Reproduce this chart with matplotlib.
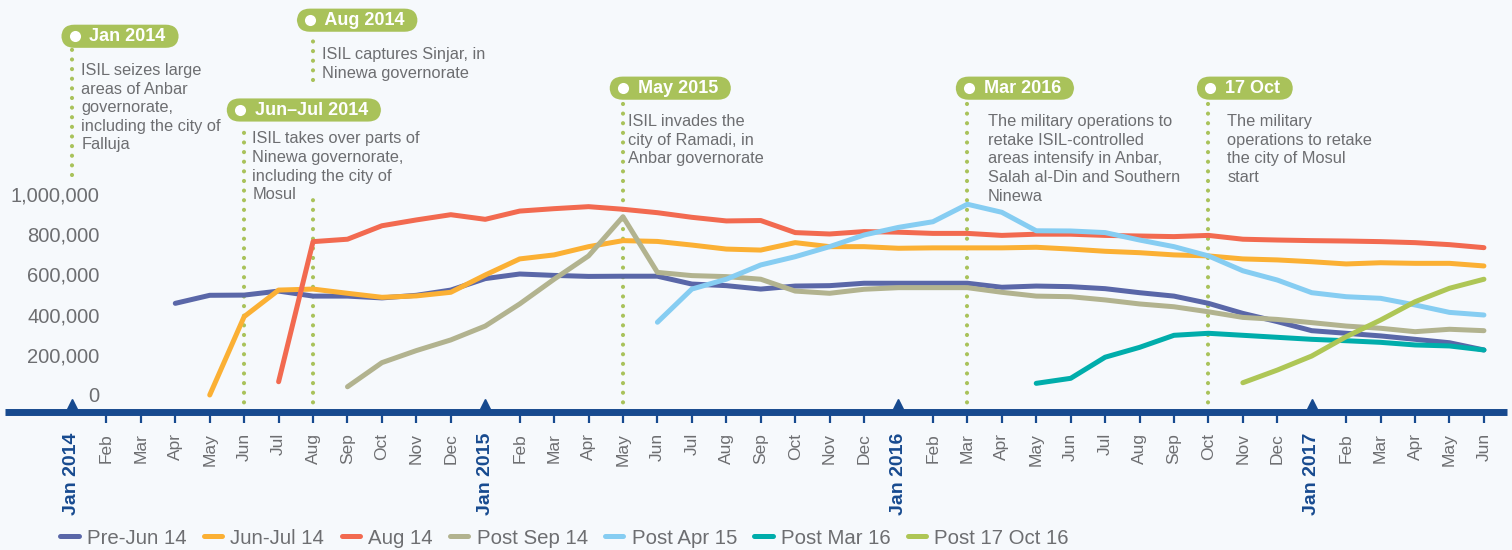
import matplotlib.pyplot as plt
from matplotlib.transforms import blended_transform_factory

# month axis, Jan 2014 .. Jun 2017
month_labels = ['Jan 2014', 'Feb', 'Mar', 'Apr', 'May', 'Jun', 'Jul', 'Aug', 'Sep', 'Oct', 'Nov', 'Dec',
                'Jan 2015', 'Feb', 'Mar', 'Apr', 'May', 'Jun', 'Jul', 'Aug', 'Sep', 'Oct', 'Nov', 'Dec',
                'Jan 2016', 'Feb', 'Mar', 'Apr', 'May', 'Jun', 'Jul', 'Aug', 'Sep', 'Oct', 'Nov', 'Dec',
                'Jan 2017', 'Feb', 'Mar', 'Apr', 'May', 'Jun']

# series (thousands), each with its first month index
pre_jun_14_start = 3
pre_jun_14 = [456, 496, 497, 517, 492, 492, 483, 496, 522,
              579, 602, 595, 590, 591, 591, 552, 544, 527, 542, 544, 556,
              556, 556, 556, 536, 542, 539, 529, 509, 492, 456, 406, 365,
              320, 307, 294, 277, 260, 224]
jun_jul_14_start = 4
jun_jul_14 = [0, 390, 522, 527, 506, 486, 493, 511,
              597, 677, 697, 738, 768, 764, 746, 726, 721, 758, 738, 738,
              730, 732, 732, 732, 735, 726, 715, 708, 697, 692, 677, 672,
              663, 652, 658, 655, 655, 642]
aug_14_start = 6
aug_14 = [66, 763, 775, 842, 871, 897,
          874, 915, 927, 937, 924, 907, 884, 866, 868, 808, 801, 813,
          810, 804, 804, 794, 800, 800, 794, 791, 788, 794, 775, 771,
          768, 766, 763, 758, 748, 733]
post_sep_14_start = 8
post_sep_14 = [41, 161, 221, 274,
               343, 453, 576, 692, 887, 610, 594, 589, 576, 517, 506, 526,
               534, 534, 534, 511, 492, 489, 473, 453, 439, 414, 386, 376,
               360, 343, 332, 315, 327, 320]
post_apr_15_start = 17
post_apr_15 = [362, 527, 576, 647, 688, 738, 796,
               834, 862, 949, 909, 817, 816, 808, 771, 738, 692, 618, 572,
               509, 489, 481, 448, 411, 398]
post_mar_16_start = 28
post_mar_16 = [58, 83, 188, 237, 297, 307, 297, 287,
               277, 270, 262, 249, 244, 224]
post_17_oct_16_start = 34
post_17_oct_16 = [61, 124, 194, 290, 373, 464, 531, 576]

series_names = ['Pre-Jun 14', 'Jun-Jul 14', 'Aug 14', 'Post Sep 14', 'Post Apr 15', 'Post Mar 16', 'Post 17 Oct 16']
series_values = [pre_jun_14, jun_jul_14, aug_14, post_sep_14, post_apr_15, post_mar_16, post_17_oct_16]
series_starts = [pre_jun_14_start, jun_jul_14_start, aug_14_start, post_sep_14_start,
                 post_apr_15_start, post_mar_16_start, post_17_oct_16_start]
series_colors = ['#5a67a8', '#fbb034', '#f26a50', '#b2b38f', '#86cdf2', '#00adab', '#aec656']

y_ticks = [0, 200000, 400000, 600000, 800000, 1000000]

# events: month index, badge label, text
event_months = [0, 7, 5, 16, 26, 33]
event_badges = ['Jan 2014', 'Aug 2014', 'Jun\u2013Jul 2014', 'May 2015', 'Mar 2016', '17 Oct']
event_texts = ['ISIL seizes large\nareas of Anbar\ngovernorate,\nincluding the city of\nFalluja',
               'ISIL captures Sinjar, in\nNinewa governorate',
               'ISIL takes over parts of\nNinewa governorate,\nincluding the city of\nMosul',
               'ISIL invades the\ncity of Ramadi, in\nAnbar governorate',
               'The military operations to\nretake ISIL-controlled\nareas intensify in Anbar,\nSalah al-Din and Southern\nNinewa',
               'The military\noperations to retake\nthe city of Mosul\nstart']
# badge vertical positions (axes fraction) and dotted-line spans
event_badge_y = [0.912, 0.951, 0.733, 0.786, 0.786, 0.786]
event_line_spans = [[(0.575, 0.88)], [(0.805, 0.915), (0.0, 0.515)], [(0.0, 0.70)],
                    [(0.0, 0.752)], [(0.0, 0.752)], [(0.0, 0.752)]]
event_badge_dx = [-0.22, -0.38, -0.42, -0.3, -0.25, -0.25]
event_text_dx = [0.27, 0.27, 0.24, 0.15, 0.6, 0.55]
event_text_dy = [0.065, 0.065, 0.052, 0.063, 0.063, 0.063]

bg = '#f6f9fc'
grey = '#6d6e71'
navy = '#174a8f'
badge_green = '#a9c25a'

fig = plt.figure(figsize=(15.12, 5.5), dpi=100, facecolor=bg)
ax = fig.add_axes([5 / 1512, 1 - 412 / 550, 1502 / 1512, 412 / 550])
ax.set_facecolor(bg)

for name, vals, start, col in zip(series_names, series_values, series_starts, series_colors):
    xs = list(range(start, start + len(vals)))
    ax.plot(xs, [v * 1000 for v in vals], color=col, lw=3.6, solid_capstyle='round',
            solid_joinstyle='round', label=name, zorder=3)

ax.set_xlim(-1.945, 41.67)
ax.set_ylim(-84575, 1965125)

for s in ['top', 'right', 'left']:
    ax.spines[s].set_visible(False)
ax.spines['bottom'].set_color(navy)
ax.spines['bottom'].set_linewidth(5)
ax.spines['bottom'].set_capstyle('butt')

ax.set_yticks(y_ticks)
ax.set_yticklabels(['{:,}'.format(v) for v in y_ticks])
ax.tick_params(axis='y', length=0, pad=-68, labelsize=14.5, labelcolor=grey)
for lab in ax.get_yticklabels():
    lab.set_horizontalalignment('right')
    lab.set_family('Liberation Sans')

ax.set_xticks(range(len(month_labels)))
ax.set_xticklabels(month_labels, rotation=90, va='top', ha='center')
ax.tick_params(axis='x', length=8, width=1.6, color=navy, pad=7, labelsize=12.5, labelcolor=grey)
jan_idx = [i for i, m in enumerate(month_labels) if m.startswith('Jan')]
ticks = ax.xaxis.get_major_ticks()
for i, lab in enumerate(ax.get_xticklabels()):
    lab.set_family('Liberation Sans')
    if i in jan_idx:
        lab.set_color(navy)
        lab.set_fontweight('bold')
        lab.set_fontsize(14)
        ticks[i].tick1line.set_visible(False)

# small triangles on the axis at each January
ax.plot(jan_idx, [-52000] * len(jan_idx), '^', ms=8, color=navy, zorder=4, clip_on=False)

# event annotations
tr = blended_transform_factory(ax.transData, ax.transAxes)
for m, badge, txt, by, spans, bdx, dx, dy in zip(event_months, event_badges, event_texts, event_badge_y,
                                                  event_line_spans, event_badge_dx, event_text_dx, event_text_dy):
    for y0, y1 in spans:
        ax.plot([m, m], [y0, y1], transform=tr, color=badge_green, lw=3,
                linestyle=(0, (0.01, 2.3)), dash_capstyle='round', zorder=2)
    ax.text(m + bdx, by, '     ' + badge + '  ', transform=tr, ha='left', va='center',
            color='white', fontsize=13, fontweight='bold', family='Liberation Sans',
            bbox=dict(boxstyle='round,pad=0.17,rounding_size=0.72', fc=badge_green, ec='none'),
            zorder=5)
    ax.plot([m + bdx + 0.3], [by], transform=tr, marker='o', ms=8, color='white', mec='none', zorder=6)
    ax.text(m + dx, by - dy, txt, transform=tr, ha='left', va='top', color=grey,
            fontsize=11.8, family='Liberation Sans', linespacing=1.3, zorder=5)

fig.legend(loc='center left', bbox_to_anchor=(50 / 1512, 1 - 538 / 550), ncol=7, frameon=False,
           handlelength=0.9, handletextpad=0.4, columnspacing=0.85, borderpad=0,
           prop={'family': 'Liberation Sans', 'size': 14.7}, labelcolor=grey)

fig.savefig('out.png', dpi=100, facecolor=bg)
